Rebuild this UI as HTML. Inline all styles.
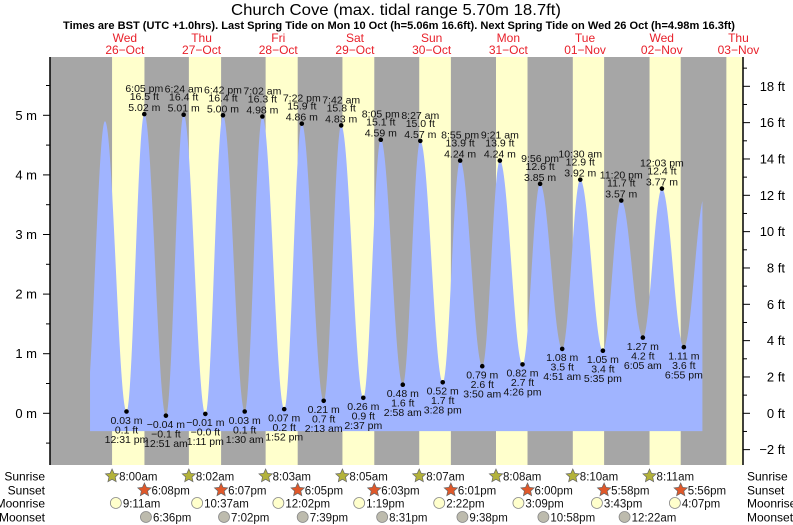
<!DOCTYPE html>
<html><head><meta charset="utf-8"><style>
html,body{margin:0;padding:0;background:#fff;}
svg{display:block;font-family:"Liberation Sans",sans-serif;}
</style></head><body>
<svg id="chart" width="793" height="525" viewBox="0 0 793 525" xmlns="http://www.w3.org/2000/svg">
<text x="396" y="15" font-size="16" text-anchor="middle" textLength="330" lengthAdjust="spacingAndGlyphs" fill="#000">Church Cove (max. tidal range 5.70m 18.7ft)</text>
<text x="399" y="29" font-size="11" font-weight="bold" text-anchor="middle" textLength="672" lengthAdjust="spacingAndGlyphs" fill="#000">Times are BST (UTC +1.0hrs). Last Spring Tide on Mon 10 Oct (h=5.06m 16.6ft). Next Spring Tide on Wed 26 Oct (h=4.98m 16.3ft)</text>
<g id="bands"></g><g id="water"></g><g id="axes"></g><g id="labels"></g><g id="astro"></g>
</svg>
<script>
// ---- data ----
const dayNames = ["Wed","Thu","Fri","Sat","Sun","Mon","Tue","Wed","Thu"];
const dayDates = ["26-Oct","27-Oct","28-Oct","29-Oct","30-Oct","31-Oct","01-Nov","02-Nov","03-Nov"];
const tideDay = [0,0,0,1,1,1,1,2,2,2,2,3,3,3,3,4,4,4,4,5,5,5,5,6,6,6,6,7,7,7];
const tideTime = ["5:47 am","12:31 pm","6:05 pm","12:51 am","6:24 am","1:11 pm","6:42 pm","1:30 am","7:02 am","1:52 pm","7:22 pm","2:13 am","7:42 am","2:37 pm","8:05 pm","2:58 am","8:27 am","3:28 pm","8:55 pm","3:50 am","9:21 am","4:26 pm","9:56 pm","4:51 am","10:30 am","5:35 pm","11:20 pm","6:05 am","12:03 pm","6:55 pm"];
const tideHeight = [4.90,0.03,5.02,-0.04,5.01,-0.01,5.00,0.03,4.98,0.07,4.86,0.21,4.83,0.26,4.59,0.48,4.57,0.52,4.24,0.79,4.24,0.82,3.85,1.08,3.92,1.05,3.57,1.27,3.77,1.11];
const tideLabeled = [0,1,1,1,1,1,1,1,1,1,1,1,1,1,1,1,1,1,1,1,1,1,1,1,1,1,1,1,1,1];
const prevLowHeight = 0.0, prevLowTime = "11:35 pm";
const nextHighHeight = 3.65, nextHighTime = "1:30 am";
const sunrise = ["8:00am","8:02am","8:03am","8:05am","8:07am","8:08am","8:10am","8:11am","8:13am"];
const sunset = ["6:08pm","6:07pm","6:05pm","6:03pm","6:01pm","6:00pm","5:58pm","5:56pm"];
const moonriseDay = [0,1,2,3,4,5,6,7];
const moonrise = ["9:11am","10:37am","12:02pm","1:19pm","2:22pm","3:09pm","3:43pm","4:07pm"];
const moonsetDay = [0,1,2,3,4,5,7];
const moonset = ["6:36pm","7:02pm","7:39pm","8:31pm","9:38pm","10:58pm","12:22am"];
const mTicks = [0,1,2,3,4,5];
const ftTicks = [-2,0,2,4,6,8,10,12,14,16,18];

// ---- scales ----
const X0=86.5, DAY=76.7, PL=50, PR=743, PT=57, PB=465;
const Y0=413.3, PXM=59.6;
const xT = t => X0 + t*DAY;
const yM = m => Y0 - m*PXM;
const yFt = f => yM(f/3.28084);
function hrs(s){const m=s.trim().match(/(\d+):(\d+)\s*(am|pm)/);let h=+m[1]%12;if(m[3]==="pm")h+=12;return h+ (+m[2])/60;}
const NS="http://www.w3.org/2000/svg";
function mk(tag,attrs,parent,text){const e=document.createElementNS(NS,tag);for(const k in attrs)e.setAttribute(k,attrs[k]);if(text!==undefined)e.textContent=text;parent.appendChild(e);return e;}
const bands=document.getElementById('bands'),water=document.getElementById('water'),axes=document.getElementById('axes'),labels=document.getElementById('labels'),astro=document.getElementById('astro');

// background bands
let r=mk('rect',{x:PL,y:PT,width:PR-PL,height:PB-PT,fill:'#a6a6a6'},bands);


for(let d=0;d<sunrise.length;d++){
  const a=xT(d+hrs(sunrise[d])/24);
  const b= d<sunset.length? xT(d+hrs(sunset[d])/24):PR;
  const e=mk('rect',{x:Math.max(a,PL),y:PT,width:Math.min(b,PR)-Math.max(a,PL),height:PB-PT,fill:'#ffffcc'},bands);
  
  
}

// tide curve
const ext=[{t:-1+hrs(prevLowTime)/24,h:prevLowHeight}];
for(let i=0;i<tideTime.length;i++)ext.push({t:tideDay[i]+hrs(tideTime[i])/24,h:tideHeight[i]});
ext.push({t:8+hrs(nextHighTime)/24,h:nextHighHeight});
function hAt(t){for(let i=0;i<ext.length-1;i++){const a=ext[i],b=ext[i+1];if(t>=a.t&&t<=b.t){const f=(t-a.t)/(b.t-a.t);return a.h+(b.h-a.h)*(1-Math.cos(Math.PI*f))/2;}}return ext[ext.length-1].h;}
const tS=0.046,tE=8.03,base=-0.3;
let pts=[[xT(tS),yM(base)]];
for(let t=tS;t<=tE;t+=0.002)pts.push([xT(t),yM(hAt(t))]);
pts.push([xT(tE),yM(hAt(tE))]);pts.push([xT(tE),yM(base)]);
const wp=mk('polygon',{points:pts.map(p=>p[0].toFixed(2)+','+p[1].toFixed(2)).join(' '),fill:'#a0b4ff'},water);



// axes
let l=mk('line',{x1:PL,y1:PT,x2:PL,y2:PB,stroke:'#000','stroke-width':1.5},axes);


l=mk('line',{x1:PR,y1:PT,x2:PR,y2:PB,stroke:'#000','stroke-width':1.5},axes);


for(let m=-0.5;m<=5.5;m+=0.5){const y=yM(m);const major=Number.isInteger(m);mk('line',{x1:major?43:46,y1:y,x2:PL,y2:y,stroke:'#000'},axes);}
mTicks.forEach(m=>{const t=mk('text',{x:37,y:yM(m)+4.5,'font-size':13,'text-anchor':'end'},axes,m+' m');

});
for(let f=-3;f<=19;f++){const y=yFt(f);if(y<PT||y>PB)continue;const major=f%2===0;mk('line',{x1:PR,y1:y,x2:major?750:747,y2:y,stroke:'#000'},axes);}
ftTicks.forEach(f=>{const t=mk('text',{x:785,y:yFt(f)+4.5,'font-size':13,'text-anchor':'end'},axes,(f<0?'\u2212'+(-f):f)+' ft');

});
for(let d=0;d<dayNames.length;d++){const x=xT(d+0.5);
const a=mk('text',{x:x,y:42,'font-size':12,'text-anchor':'middle',fill:'#e8202a'},axes,dayNames[d]);


const b=mk('text',{x:x,y:54,'font-size':12,'text-anchor':'middle',fill:'#e8202a'},axes,dayDates[d].replace('-','\u2212'));

}

// tide labels
const fmt=s=>s.replace('-','\u2212');
for(let i=0;i<tideTime.length;i++){if(!tideLabeled[i])continue;
  const x=xT(tideDay[i]+hrs(tideTime[i])/24),y=yM(tideHeight[i]);
  const isHigh=(i>0&&tideHeight[i]>tideHeight[i-1])||(i===0);
  const c=mk('circle',{cx:x,cy:y,r:2.3,fill:'#000'},labels);
  
  
  const mS=fmt(tideHeight[i].toFixed(2))+' m',fS=fmt((tideHeight[i]*3.28084).toFixed(1))+' ft';
  const lines=isHigh?[[tideTime[i],-22],[fS,-14],[mS,-3]]:[[mS,12.3],[fS,21.8],[tideTime[i],31.3]];
  lines.forEach(([s,o])=>{const t=mk('text',{x:x,y:y+o,'font-size':10.5,'text-anchor':'middle',fill:'#111'},labels,s);
  
  });
}

// astro rows
const rowY=[476,490,503,517],rowNames=['Sunrise','Sunset','Moonrise','Moonset'];
rowY.forEach((y,i)=>{let t=mk('text',{x:45,y:y+4.5,'font-size':12,'text-anchor':'end'},astro,rowNames[i]);


t=mk('text',{x:747,y:y+4.5,'font-size':12},astro,rowNames[i]);

});
function star(cx,cy,fill,name){const p=[];for(let k=0;k<10;k++){const a=-Math.PI/2+k*Math.PI/5,rr=k%2?3.3:7;p.push((cx+rr*Math.cos(a)).toFixed(2)+','+(cy+rr*Math.sin(a)).toFixed(2));}
const s=mk('polygon',{points:p.join(' '),fill:fill,stroke:'#666','stroke-width':0.7},astro);

}
function moon(cx,cy,fill,name){const s=mk('circle',{cx:cx,cy:cy,r:5.5,fill:fill,stroke:'#888','stroke-width':0.8},astro);

}
function lab(x,y,s,name){const t=mk('text',{x:x+7,y:y+4.5,'font-size':11.5,fill:'#111'},astro,s);

}
for(let d=0;d<8;d++){let x=xT(d+hrs(sunrise[d])/24);star(x,rowY[0],'#b3b23a','sunrise-icon');lab(x,rowY[0],sunrise[d],'sunrise-time');
x=xT(d+hrs(sunset[d])/24);star(x,rowY[1],'#e0582a','sunset-icon');lab(x,rowY[1],sunset[d],'sunset-time');}
for(let i=0;i<moonrise.length;i++){const x=xT(moonriseDay[i]+hrs(moonrise[i])/24);moon(x,rowY[2],'#ffffcc','moonrise-icon');lab(x,rowY[2],moonrise[i],'moonrise-time');}
for(let i=0;i<moonset.length;i++){const x=xT(moonsetDay[i]+hrs(moonset[i])/24);moon(x,rowY[3],'#bdbbad','moonset-icon');lab(x,rowY[3],moonset[i],'moonset-time');}
</script>
</body></html>
